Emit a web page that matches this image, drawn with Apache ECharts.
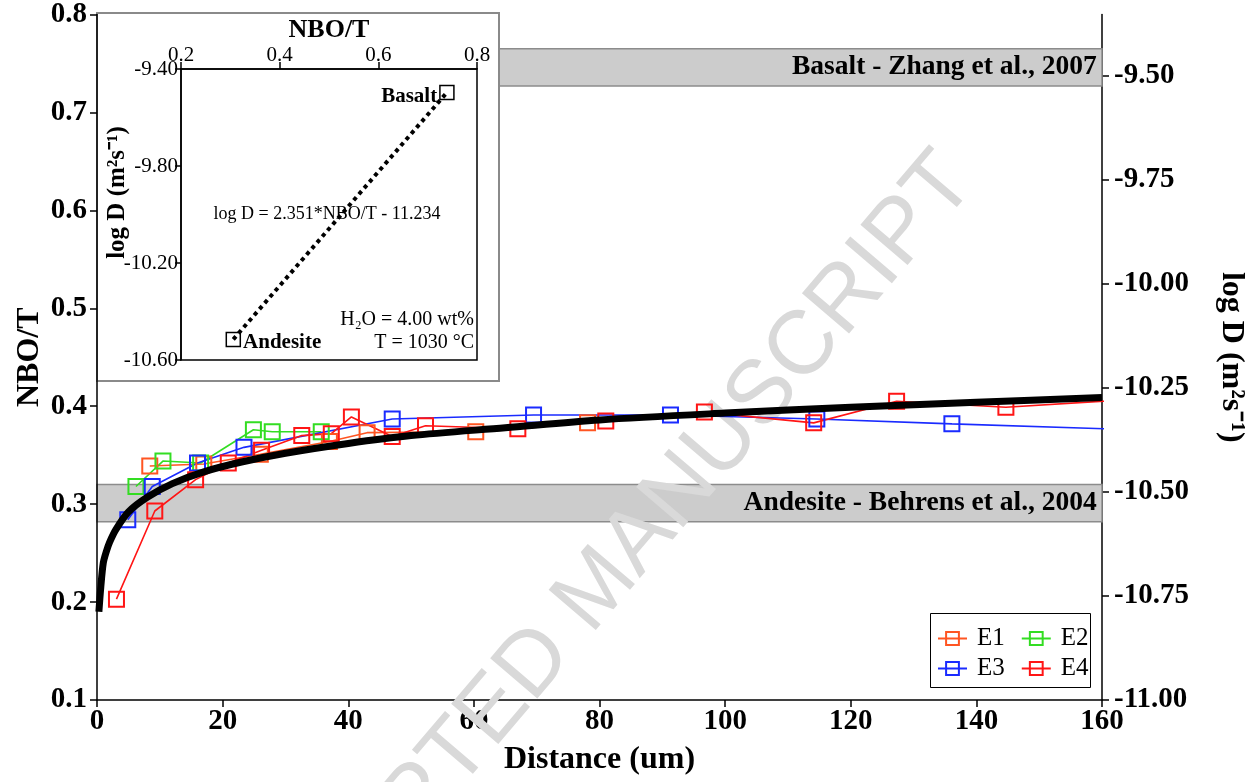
<!DOCTYPE html>
<html>
<head>
<meta charset="utf-8">
<script src="https://cdn.jsdelivr.net/npm/echarts@6/dist/echarts.min.js"></script>
<style>
  html, body { margin: 0; padding: 0; background: #fff; }
  #chart { width: 1255px; height: 782px; }
</style>
</head>
<body>
<div id="chart"></div>
<script>
// 数据
const distE1 = [8.4, 17.0, 26.0, 37.0, 43.0, 60.3, 78.1];
const nboE1 = [0.339, 0.341, 0.351, 0.364, 0.373, 0.374, 0.383];
const distE2 = [6.2, 10.5, 16.5, 24.9, 27.9, 35.7];
const nboE2 = [0.318, 0.344, 0.342, 0.376, 0.374, 0.374];
const distE3 = [4.9, 8.8, 16.0, 23.4, 47.0, 69.5, 91.3, 114.6, 136.1, 175];
const nboE3 = [0.284, 0.318, 0.342, 0.358, 0.387, 0.391, 0.391, 0.387, 0.382, 0.374];
const distE4 = [3.1, 9.2, 15.7, 20.9, 26.2, 32.6, 37.3, 40.5, 47.0, 52.3, 67.0, 81.0, 96.7, 114.1, 127.3, 144.7, 175];
const nboE4 = [0.203, 0.293, 0.325, 0.342, 0.355, 0.370, 0.372, 0.389, 0.369, 0.380, 0.377, 0.385, 0.394, 0.383, 0.405, 0.399, 0.411];
// 拟合曲线
const fitDist = [0.3, 0.6, 1, 1.5, 2, 3, 5, 8, 12, 17, 23, 30, 40, 50, 65, 80, 100, 120, 140, 160];
const fitNbo = [0.190, 0.215, 0.240, 0.252, 0.261, 0.274, 0.292, 0.307, 0.321, 0.333, 0.343, 0.352, 0.362, 0.370, 0.378, 0.386, 0.393, 0.399, 0.404, 0.409];
// 参考带 (NBO/T)
const andesiteBand = [0.282, 0.320];
const basaltBand = [0.727, 0.765];
// 插图
const insetNames = ['Andesite', 'Basalt'];
const insetNbo = [0.306, 0.739];
const insetLogD = [-10.515, -9.497];
const slope = 2.351, intercept = -11.234;
const rightTicks = [-11.00, -10.75, -10.50, -10.25, -10.00, -9.75, -9.50];
const insetYTicks = [-10.60, -10.20, -9.80, -9.40];

const serif = 'Liberation Serif';
const pair = (xs, ys) => xs.map((x, i) => [x, ys[i]]);

const chart = echarts.init(document.getElementById('chart'));

const axisBase = {
  axisLine: { show: true, lineStyle: { color: '#000', width: 1.5 } },
  axisTick: { show: true, inside: false, length: 7, lineStyle: { color: '#000', width: 1.5 } },
  splitLine: { show: false },
  nameMoveOverlap: false
};
const mainLabel = { color: '#000', fontFamily: serif, fontWeight: 'bold', fontSize: 29 };
const insetLabel = { color: '#000', fontFamily: serif, fontSize: 21 };
const mainName = { color: '#000', fontFamily: serif, fontWeight: 'bold', fontSize: 32 };

function eSeries(name, color, xs, ys) {
  return {
    name: name, type: 'line', xAxisIndex: 0, yAxisIndex: 0, z: 4,
    data: pair(xs, ys),
    symbol: 'rect', symbolSize: 15,
    itemStyle: { color: 'rgba(255,255,255,0)', borderColor: color, borderWidth: 2 },
    lineStyle: { color: color, width: 1.6 },
    clip: true
  };
}

function legendRow(names, top) {
  return {
    data: names, left: 937, top: top, orient: 'horizontal', padding: 0, z: 30,
    itemWidth: 29, itemHeight: 16, itemGap: 16,
    textStyle: { color: '#000', fontFamily: serif, fontSize: 25, padding: [0, 0, 0, 5] }
  };
}

const options = {
  animation: false,
  backgroundColor: '#fff',
  grid: [
    { left: 97, right: 152, top: 14, bottom: 82 },
    { left: 181, top: 69, width: 296, height: 291, show: true, z: 25,
      backgroundColor: 'rgba(0,0,0,0)', borderColor: '#000', borderWidth: 1.5 }
  ],
  legend: [legendRow(['E1', 'E2'], 626), legendRow(['E3', 'E4'], 656)],
  xAxis: [
    Object.assign({}, axisBase, {
      gridIndex: 0, type: 'value', min: 0, max: 160, interval: 20, position: 'bottom',
      axisLabel: Object.assign({ margin: 7 }, mainLabel),
      name: 'Distance (um)', nameLocation: 'middle', nameGap: 44,
      nameTextStyle: mainName
    }),
    Object.assign({}, axisBase, {
      gridIndex: 1, type: 'value', min: 0.2, max: 0.8, interval: 0.2, position: 'top', z: 30,
      axisLabel: Object.assign({ margin: 3, formatter: v => v.toFixed(1) }, insetLabel),
      name: 'NBO/T', nameLocation: 'middle', nameGap: 26,
      nameTextStyle: { color: '#000', fontFamily: serif, fontWeight: 'bold', fontSize: 26 }
    })
  ],
  yAxis: [
    Object.assign({}, axisBase, {
      gridIndex: 0, type: 'value', min: 0.1, max: 0.8, interval: 0.1, position: 'left', z: 30,
      axisLabel: Object.assign({ margin: 10, formatter: v => v.toFixed(1) }, mainLabel),
      name: 'NBO/T', nameLocation: 'middle', nameGap: 51, nameRotate: 90,
      nameTextStyle: mainName
    }),
    Object.assign({}, axisBase, {
      gridIndex: 0, type: 'value', position: 'right',
      min: -11, max: slope * 0.8 + intercept,
      axisTick: { show: true, length: 7, customValues: rightTicks, lineStyle: { color: '#000', width: 1.5 } },
      axisLabel: Object.assign({ margin: 12, customValues: rightTicks, formatter: v => v.toFixed(2) }, mainLabel),
      name: 'log D (m²s⁻¹)', nameLocation: 'middle', nameGap: 113, nameRotate: -90,
      nameTextStyle: mainName
    }),
    Object.assign({}, axisBase, {
      gridIndex: 1, type: 'value', min: -10.6, max: -9.4, position: 'left', z: 30,
      axisTick: { show: true, length: 6, customValues: insetYTicks, lineStyle: { color: '#000', width: 1.5 } },
      axisLabel: Object.assign({ margin: 3, customValues: insetYTicks, formatter: v => v.toFixed(2) }, insetLabel),
      name: 'log D (m²s⁻¹)', nameLocation: 'middle', nameGap: 51, nameRotate: 90,
      nameTextStyle: { color: '#000', fontFamily: serif, fontWeight: 'bold', fontSize: 25, padding: [0, 0, 0, 44] }
    })
  ],
  graphic: [
    { type: 'text', z: 3, x: 598, y: 589, rotation: 49.5 * Math.PI / 180,
      style: { text: 'ACCEPTED MANUSCRIPT', fill: '#d9d9d9', fontSize: 90,
        fontFamily: 'Liberation Sans', align: 'center', verticalAlign: 'middle' } },
    { type: 'rect', z: 20, shape: { x: 97, y: 13, width: 402, height: 368 },
      style: { fill: '#fff', stroke: '#8a8a8a', lineWidth: 2 } },
    { type: 'rect', z: 20, shape: { x: 930.5, y: 613.5, width: 160, height: 74 },
      style: { fill: '#fff', stroke: '#000', lineWidth: 1 } },
    { type: 'text', z: 40, x: 327, y: 214,
      style: { text: 'log D = 2.351*NBO/T - 11.234', fill: '#000', fontSize: 18,
        fontFamily: serif, align: 'center', verticalAlign: 'middle' } },
    { type: 'text', z: 40, x: 474, y: 320,
      style: { text: 'H₂O = 4.00 wt%', fill: '#000', fontSize: 20,
        fontFamily: serif, align: 'right', verticalAlign: 'middle' } },
    { type: 'text', z: 40, x: 474, y: 343,
      style: { text: 'T = 1030 °C', fill: '#000', fontSize: 20,
        fontFamily: serif, align: 'right', verticalAlign: 'middle' } }
  ],
  series: [
    {
      name: 'bands', type: 'line', xAxisIndex: 0, yAxisIndex: 0, z: 1, data: [],
      markArea: {
        silent: true,
        itemStyle: { color: '#cccccc', borderColor: '#8c8c8c', borderWidth: 1.5 },
        label: { show: true, position: 'insideRight', distance: 6, color: '#000',
          fontFamily: serif, fontWeight: 'bold', fontSize: 27.5 },
        data: [
          [{ yAxis: andesiteBand[0], name: 'Andesite - Behrens et al., 2004' }, { yAxis: andesiteBand[1] }],
          [{ yAxis: basaltBand[0], name: 'Basalt - Zhang et al., 2007' }, { yAxis: basaltBand[1] }]
        ]
      }
    },
    eSeries('E1', '#ff5522', distE1, nboE1),
    eSeries('E2', '#33dd22', distE2, nboE2),
    eSeries('E3', '#1a2bff', distE3, nboE3),
    eSeries('E4', '#ff1515', distE4, nboE4),
    {
      name: 'fit', type: 'line', xAxisIndex: 0, yAxisIndex: 0, z: 5,
      data: pair(fitDist, fitNbo), symbol: 'none', smooth: 0.3,
      lineStyle: { color: '#000', width: 7 }
    },
    {
      name: 'inset', type: 'line', xAxisIndex: 1, yAxisIndex: 2, z: 30,
      data: insetNames.map((n, i) => ({
        name: n, value: [insetNbo[i], insetLogD[i]],
        label: i === 0
          ? { show: true, position: 'right', distance: 2, offset: [0, 3] }
          : { show: true, position: 'left', distance: 2, offset: [0, 4] }
      })),
      symbol: 'rect', symbolSize: 14,
      itemStyle: { color: 'rgba(255,255,255,0)', borderColor: '#000', borderWidth: 1.5 },
      lineStyle: { color: '#000', width: 4, type: 'dotted' },
      label: { formatter: '{b}', color: '#000', fontFamily: serif, fontWeight: 'bold', fontSize: 21 }
    }
  ]
};

chart.setOption(options);
</script>
</body>
</html>
